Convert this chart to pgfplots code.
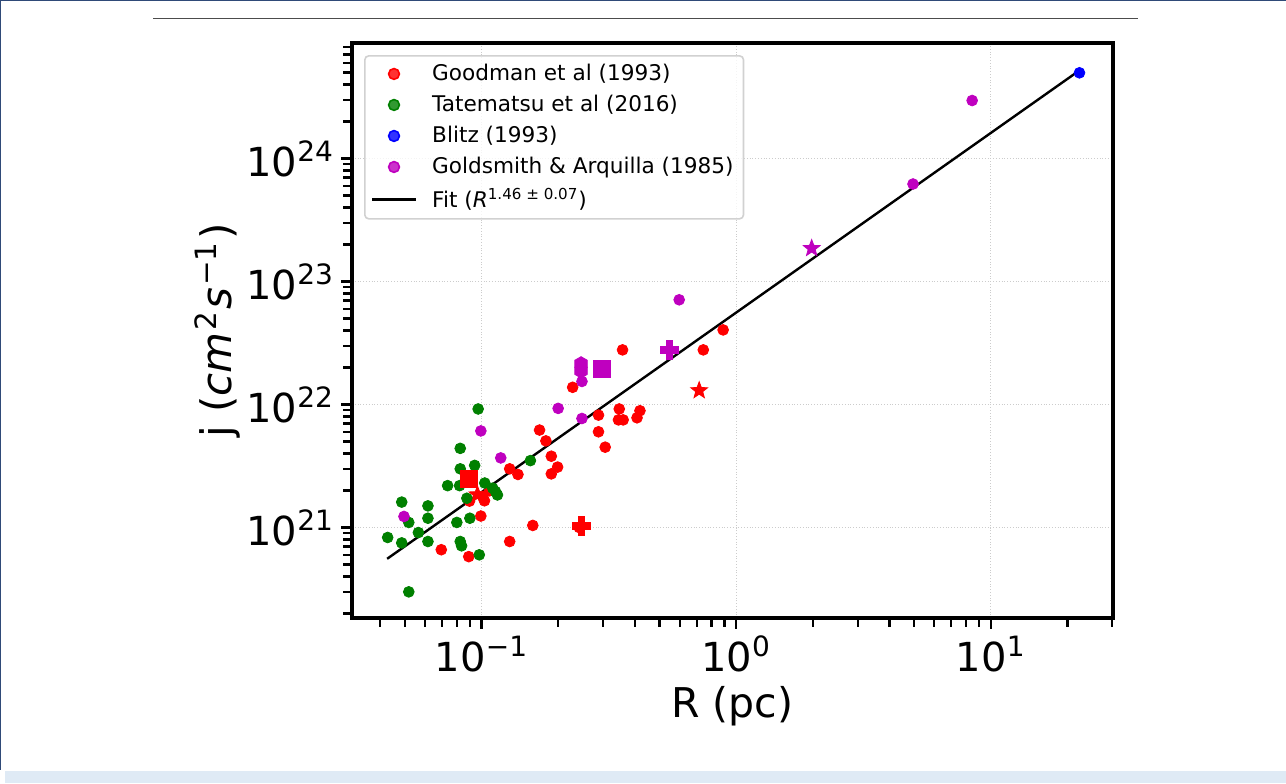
\documentclass[border=0pt]{standalone}
\usepackage{fontspec}
\setmainfont{DejaVu Sans}
\usepackage{pgfplots}
\pgfplotsset{compat=1.18}
\usetikzlibrary{plotmarks}

\definecolor{mred}{rgb}{1,0,0}
\definecolor{mgreen}{rgb}{0,0.5,0}
\definecolor{mblue}{rgb}{0,0,1}
\definecolor{mmag}{rgb}{0.75,0,0.75}
\definecolor{frameblue}{HTML}{2F4A78}
\definecolor{stripblue}{HTML}{DFEAF5}

\pgfdeclareplotmark{fplus}{%
  \pgfpathmoveto{\pgfpoint{-0.34\pgfplotmarksize}{\pgfplotmarksize}}%
  \pgfpathlineto{\pgfpoint{0.34\pgfplotmarksize}{\pgfplotmarksize}}%
  \pgfpathlineto{\pgfpoint{0.34\pgfplotmarksize}{0.34\pgfplotmarksize}}%
  \pgfpathlineto{\pgfpoint{\pgfplotmarksize}{0.34\pgfplotmarksize}}%
  \pgfpathlineto{\pgfpoint{\pgfplotmarksize}{-0.34\pgfplotmarksize}}%
  \pgfpathlineto{\pgfpoint{0.34\pgfplotmarksize}{-0.34\pgfplotmarksize}}%
  \pgfpathlineto{\pgfpoint{0.34\pgfplotmarksize}{-\pgfplotmarksize}}%
  \pgfpathlineto{\pgfpoint{-0.34\pgfplotmarksize}{-\pgfplotmarksize}}%
  \pgfpathlineto{\pgfpoint{-0.34\pgfplotmarksize}{-0.34\pgfplotmarksize}}%
  \pgfpathlineto{\pgfpoint{-\pgfplotmarksize}{-0.34\pgfplotmarksize}}%
  \pgfpathlineto{\pgfpoint{-\pgfplotmarksize}{0.34\pgfplotmarksize}}%
  \pgfpathlineto{\pgfpoint{-0.34\pgfplotmarksize}{0.34\pgfplotmarksize}}%
  \pgfpathclose\pgfusepathqfillstroke}

\pgfdeclareplotmark{fstar}{%
  \pgfpathmoveto{\pgfpointpolar{90}{\pgfplotmarksize}}%
  \pgfpathlineto{\pgfpointpolar{126}{0.42\pgfplotmarksize}}%
  \pgfpathlineto{\pgfpointpolar{162}{\pgfplotmarksize}}%
  \pgfpathlineto{\pgfpointpolar{198}{0.42\pgfplotmarksize}}%
  \pgfpathlineto{\pgfpointpolar{234}{\pgfplotmarksize}}%
  \pgfpathlineto{\pgfpointpolar{270}{0.42\pgfplotmarksize}}%
  \pgfpathlineto{\pgfpointpolar{306}{\pgfplotmarksize}}%
  \pgfpathlineto{\pgfpointpolar{342}{0.42\pgfplotmarksize}}%
  \pgfpathlineto{\pgfpointpolar{18}{\pgfplotmarksize}}%
  \pgfpathlineto{\pgfpointpolar{54}{0.42\pgfplotmarksize}}%
  \pgfpathclose\pgfusepathqfillstroke}

\pgfdeclareplotmark{fhex}{%
  \pgfpathmoveto{\pgfpointpolar{90}{\pgfplotmarksize}}%
  \pgfpathlineto{\pgfpointpolar{150}{\pgfplotmarksize}}%
  \pgfpathlineto{\pgfpointpolar{210}{\pgfplotmarksize}}%
  \pgfpathlineto{\pgfpointpolar{270}{\pgfplotmarksize}}%
  \pgfpathlineto{\pgfpointpolar{330}{\pgfplotmarksize}}%
  \pgfpathlineto{\pgfpointpolar{30}{\pgfplotmarksize}}%
  \pgfpathclose\pgfusepathqfillstroke}

\begin{document}
\begin{tikzpicture}
\path[use as bounding box] (0,0) rectangle (643pt,391.5pt);
% page frame of the screenshot
\fill[stripblue] (2.5pt,0pt) rectangle (643pt,6pt);
\draw[frameblue, line width=0.6pt] (0,391.2pt) -- (643pt,391.2pt);
\draw[frameblue, line width=0.6pt] (0.3pt,391.5pt) -- (0.3pt,6.5pt);
\draw[black!70, line width=0.9pt] (76.5pt,382.2pt) -- (569pt,382.2pt);

\begin{axis}[
  at={(176pt,82.5pt)}, anchor=south west,
  scale only axis, width=380.5pt, height=287.5pt,
  xmode=log, ymode=log,
  xmin=0.031, xmax=30.2, ymin=1.84e20, ymax=8.69e24,
  xtick={0.1,1,10},
  xticklabels={10\textsuperscript{−1},10\textsuperscript{0},10\textsuperscript{1}},
  ytick={1e21,1e22,1e23,1e24},
  yticklabels={10\textsuperscript{21},10\textsuperscript{22},10\textsuperscript{23},10\textsuperscript{24}},
  minor xtick={0.04,0.05,0.06,0.07,0.08,0.09,0.2,0.3,0.4,0.5,0.6,0.7,0.8,0.9,2,3,4,5,6,7,8,9,20,30},
  minor ytick={2e20,3e20,4e20,5e20,6e20,7e20,8e20,9e20,2e21,3e21,4e21,5e21,6e21,7e21,8e21,9e21,2e22,3e22,4e22,5e22,6e22,7e22,8e22,9e22,2e23,3e23,4e23,5e23,6e23,7e23,8e23,9e23,2e24,3e24,4e24,5e24,6e24,7e24,8e24},
  /pgf/number format/assume math mode=true,
  tick label style={font=\fontsize{20}{24}\selectfont},
  xlabel style={font=\fontsize{20.5}{24}\selectfont},
  ylabel style={font=\fontsize{21}{25}\selectfont},
  xlabel={R (pc)},
  ylabel={j (\textit{cm}\kern0.8pt\textsuperscript{2}\kern1pt\textit{s}\kern0.8pt\textsuperscript{−1}\kern1pt)},
  ylabel shift={-4pt},
  tick pos=left, tick align=outside,
  major tick length=5.5pt, minor tick length=4.5pt,
  every tick/.style={black, line width=1.1pt},
  axis line style={line width=2pt},
  grid=major,
  major grid style={densely dotted, black!20, line width=0.6pt},
  legend style={at={(0.0158,0.979)}, anchor=north west,
    draw=black!18, line width=0.8pt, rounded corners=2pt,
    fill=white, fill opacity=0.8, text opacity=1,
    font=\fontsize{10.8}{12.5}\selectfont, row sep=1.8pt,
    inner xsep=3pt, inner ysep=2.2pt,
    cells={anchor=west}},
  legend image code/.code={\draw[mark repeat=2,mark phase=2,#1] plot coordinates {(0pt,0pt) (11pt,0pt) (22pt,0pt)}; \path (27.5pt,0pt);},
]
% Goodman et al (1993)
\addplot[only marks, mark=*, mark size=2.7pt, color=mred, mark options={fill=mred, draw=mred}] coordinates {
(0.0897,1.64e21) (0.101,1.79e21) (0.1027,1.65e21) (0.1075,1.99e21) (0.0994,1.24e21)
(0.0695,6.6e20) (0.0891,5.8e20) (0.129,7.7e20) (0.159,1.04e21) (0.242,1.0e21)
(0.129,3.0e21) (0.139,2.7e21) (0.169,6.2e21) (0.179,5.06e21) (0.188,3.8e21)
(0.199,3.1e21) (0.188,2.73e21) (0.288,8.2e21) (0.288,6.0e21) (0.306,4.5e21)
(0.3475,9.2e21) (0.345,7.5e21) (0.36,7.5e21) (0.408,7.8e21) (0.419,8.9e21)
(0.228,1.38e22) (0.358,2.78e22) (0.743,2.78e22) (0.889,4.04e22)
};
\addlegendentry{Goodman et al (1993)}
% Tatematsu et al (2016)
\addplot[only marks, mark=*, mark size=2.7pt, color=mgreen, mark options={fill=mgreen, draw=mgreen}] coordinates {
(0.097,9.2e21) (0.0825,4.4e21) (0.0825,3.0e21) (0.094,3.2e21) (0.0736,2.19e21)
(0.082,2.19e21) (0.103,2.3e21) (0.1107,2.09e21) (0.1135,1.96e21) (0.1155,1.84e21)
(0.0876,1.73e21) (0.0486,1.61e21) (0.0616,1.5e21) (0.0616,1.19e21) (0.0518,1.1e21)
(0.090,1.19e21) (0.080,1.1e21) (0.0565,9.1e20) (0.0428,8.3e20) (0.0486,7.5e20)
(0.0616,7.7e20) (0.0825,7.7e20) (0.0835,7.1e20) (0.098,6.0e20) (0.0518,3.0e20)
(0.1556,3.5e21)
};
\addlegendentry{Tatematsu et al (2016)}
% Blitz (1993)
\addplot[only marks, mark=*, mark size=2.7pt, color=mblue, mark options={fill=mblue, draw=mblue}] coordinates {
(22.3,4.97e24)
};
\addlegendentry{Blitz (1993)}
% Goldsmith & Arquilla (1985)
\addplot[only marks, mark=*, mark size=2.7pt, color=mmag, mark options={fill=mmag, draw=mmag}] coordinates {
(0.0994,6.1e21) (0.119,3.68e21) (0.0496,1.23e21) (0.2,9.3e21) (0.248,7.7e21)
(0.248,1.54e22) (0.5975,7.1e22) (4.95,6.2e23) (8.45,2.96e24)
};
\addlegendentry{Goldsmith \& Arquilla (1985)}
% Fit
\addplot[black, line width=1.2pt] coordinates {(0.0426,5.57e20) (21.8,5.03e24)};
\addlegendentry{Fit (\textit{R}\textsuperscript{1.46 ± 0.07})}
% special markers (red)
\addplot[forget plot, only marks, mark=square*, mark size=4.3pt, color=mred, mark options={fill=mred, draw=mred}] coordinates {(0.0891,2.5e21)};
\addplot[forget plot, only marks, mark=fplus, mark size=4.6pt, color=mred, mark options={fill=mred, draw=mred}] coordinates {(0.2466,1.03e21)};
\addplot[forget plot, only marks, mark=fstar, mark size=4.4pt, color=mred, mark options={fill=mred, draw=mred}] coordinates {(0.716,1.3e22) (0.0964,1.85e21)};
% special markers (magenta)
\addplot[forget plot, only marks, mark=square*, mark size=4.3pt, color=mmag, mark options={fill=mmag, draw=mmag}] coordinates {(0.297,1.94e22)};
\addplot[forget plot, only marks, mark=fplus, mark size=4.6pt, color=mmag, mark options={fill=mmag, draw=mmag}] coordinates {(0.546,2.78e22)};
\addplot[forget plot, only marks, mark=fstar, mark size=4.4pt, color=mmag, mark options={fill=mmag, draw=mmag}] coordinates {(1.98,1.86e23)};
\addplot[forget plot, only marks, mark=fhex, mark size=3.6pt, color=mmag, mark options={fill=mmag, draw=mmag}] coordinates {(0.246,2.14e22) (0.246,1.88e22)};
\end{axis}
\end{tikzpicture}
\end{document}
